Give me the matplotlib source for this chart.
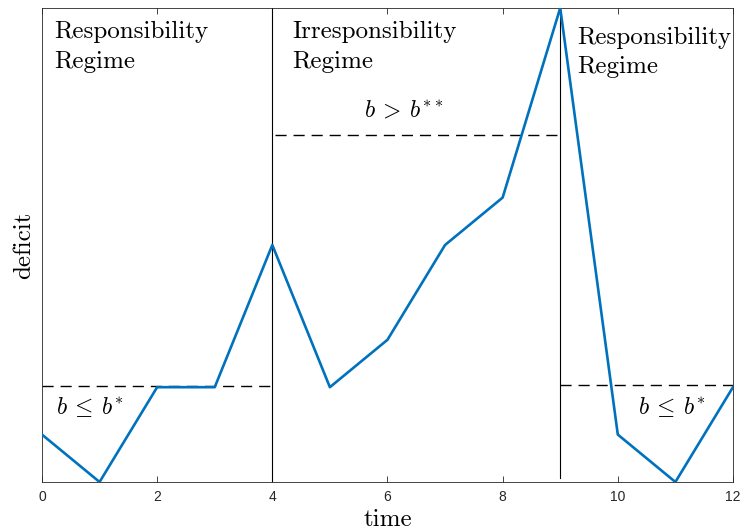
import matplotlib
matplotlib.use("Agg")
import matplotlib.pyplot as plt

plt.rcParams['mathtext.fontset'] = 'cm'
plt.rcParams['axes.unicode_minus'] = False

time = [0, 1, 2, 3, 4, 5, 6, 7, 8, 9, 10, 11, 12]
deficit = [1, 0, 2, 2, 5, 2, 3, 5, 6, 10, 1, 0, 2]

regime_bounds = [4, 9]
low_threshold = 2.02
high_threshold = 7.32
regime_labels = ['Responsibility\nRegime', 'Irresponsibility\nRegime', 'Responsibility\nRegime']
xtick_values = [0, 2, 4, 6, 8, 10, 12]

axis_grey = '#262626'

fig = plt.figure(figsize=(7.43, 5.31), dpi=100)
ax = fig.add_axes([0.0565, 0.0923, 0.930, 0.8927])

ax.plot(time, deficit, color='#0072BD', lw=1.9, zorder=3)

# regime separators
ax.plot([regime_bounds[0]] * 2, [0, 10], color='black', lw=0.8)
ax.plot([regime_bounds[1]] * 2, [0.08, 10], color='black', lw=0.8)

# thresholds
dash = dict(color='black', lw=1.0, ls=(0, (8, 5)))
ax.plot([0, 4.05], [low_threshold, low_threshold], **dash)
ax.plot([4.05, 8.95], [high_threshold, high_threshold], **dash)
ax.plot([9.0, 12], [low_threshold + 0.02, low_threshold + 0.02], **dash)

txt = dict(family='cmr10', fontsize=18, va='top', ha='left', linespacing=1.42)
ax.text(0.22, 9.72, regime_labels[0], **txt)
ax.text(4.35, 9.72, regime_labels[1], **txt)
ax.text(9.3, 9.61, regime_labels[2], **txt)

ax.text(5.6, 7.85, r'$b\:>\:b^{**}$', fontsize=17, va='center')
ax.text(0.25, 1.58, r'$b\:\leq\:b^{*}$', fontsize=17, va='center')
ax.text(10.35, 1.58, r'$b\:\leq\:b^{*}$', fontsize=17, va='center')

ax.set_xlim(0, 12)
ax.set_ylim(0, 10)
ax.set_yticks([])
ax.set_xticks(xtick_values)
ax.set_xticklabels([str(v) for v in xtick_values], family='Liberation Sans',
                   fontsize=10, color=axis_grey)
ax.tick_params(axis='x', direction='in', top=True, length=4.5, width=0.6,
               colors=axis_grey, pad=6)
for s in ax.spines.values():
    s.set_color(axis_grey)
    s.set_linewidth(0.6)

ax.set_xlabel('time', family='cmr10', fontsize=18, labelpad=3)
ax.set_ylabel('deficit', family='cmr10', fontsize=18, labelpad=5)

fig.savefig('out.png', dpi=100)
